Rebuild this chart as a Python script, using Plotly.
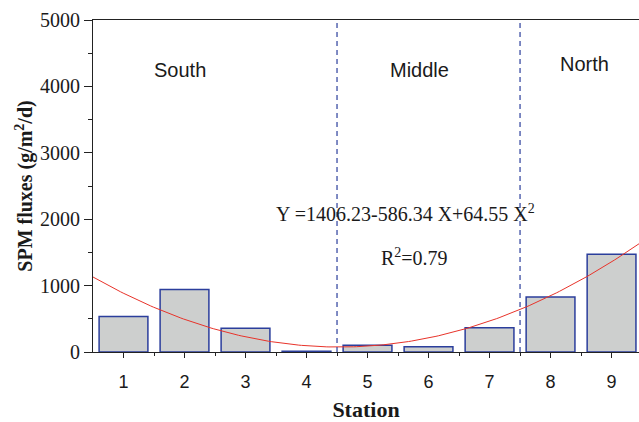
import plotly.graph_objects as go

stations = [1, 2, 3, 4, 5, 6, 7, 8, 9]
spm_flux = [536, 941, 356, 10, 100, 80, 365, 830, 1471]
fit_coef = [1406.23, -586.34, 64.55]
region_names = ["South", "Middle", "North"]
region_bounds = [4.5, 7.5]

x_min, x_max = 0.5, 9.45
n = 200
fit_x = [x_min + (x_max - x_min) * i / (n - 1) for i in range(n)]
fit_y = [fit_coef[0] + fit_coef[1] * x + fit_coef[2] * x * x for x in fit_x]

BLUE = "#2b3e9c"
serif = "Liberation Serif, Times New Roman, serif"
sans = "Liberation Sans, Arial, sans-serif"

fig = go.Figure()
fig.add_trace(go.Bar(x=stations, y=spm_flux, width=0.8,
                     marker=dict(color="#cdcfce", line=dict(color=BLUE, width=1.5)),
                     showlegend=False))
fig.add_trace(go.Scatter(x=fit_x, y=fit_y, mode="lines",
                         line=dict(color="#e8332a", width=1), showlegend=False))

for b in region_bounds:
    fig.add_shape(type="line", x0=b, x1=b, y0=0, y1=5000, xref="x", yref="y",
                  line=dict(color=BLUE, width=1.2, dash="5px,4px"))

region_pos = [(1.92, 4249), (5.85, 4249), (8.56, 4339)]
for name, (x, y) in zip(region_names, region_pos):
    fig.add_annotation(x=x, y=y, text=name, showarrow=False,
                       font=dict(family=sans, size=20, color="#1a1a1a"))

eq_text = "Y =%.2f-%.2f X+%.2f X<sup>2</sup>" % (fit_coef[0], -fit_coef[1], fit_coef[2])
fig.add_annotation(x=5.62, y=2090, text=eq_text, showarrow=False,
                   font=dict(family=serif, size=20, color="#1a1a1a"))
fig.add_annotation(x=5.77, y=1426, text="R<sup>2</sup>=0.79", showarrow=False,
                   font=dict(family=serif, size=20, color="#1a1a1a"))

fig.update_layout(
    width=639, height=422,
    margin=dict(l=93, r=0, t=20, b=70),
    plot_bgcolor="white", paper_bgcolor="white",
    bargap=0.2,
    xaxis=dict(range=[x_min, x_max], tickvals=stations, ticktext=[str(s) for s in stations],
               ticks="outside", ticklen=5, tickwidth=1.2, tickcolor="#222",
               showline=True, linecolor="#222", linewidth=1.2, mirror=True,
               showgrid=False, zeroline=False, ticklabelstandoff=8,
               minor=dict(tickvals=[s + 0.5 for s in stations[:-1]], ticks="outside",
                          ticklen=3, tickwidth=1, tickcolor="#222"),
               tickfont=dict(family=sans, size=18, color="#1a1a1a"),
               title=dict(text="<b>Station</b>", font=dict(family=serif, size=22, color="#1a1a1a"),
                          standoff=12)),
    yaxis=dict(range=[0, 5000], tickvals=[0, 1000, 2000, 3000, 4000, 5000],
               ticks="outside", ticklen=8, tickwidth=1.2, tickcolor="#222",
               showline=True, linecolor="#222", linewidth=1.2,
               showgrid=False, zeroline=False,
               minor=dict(dtick=500, ticks="outside", ticklen=4, tickwidth=1, tickcolor="#222"),
               tickfont=dict(family=serif, size=20, color="#1a1a1a"),
               title=dict(text="<b>SPM fluxes (g/m<sup>2</sup>/d)</b>",
                          font=dict(family=serif, size=20, color="#1a1a1a"), standoff=1)),
)

fig.write_html("out.html")
